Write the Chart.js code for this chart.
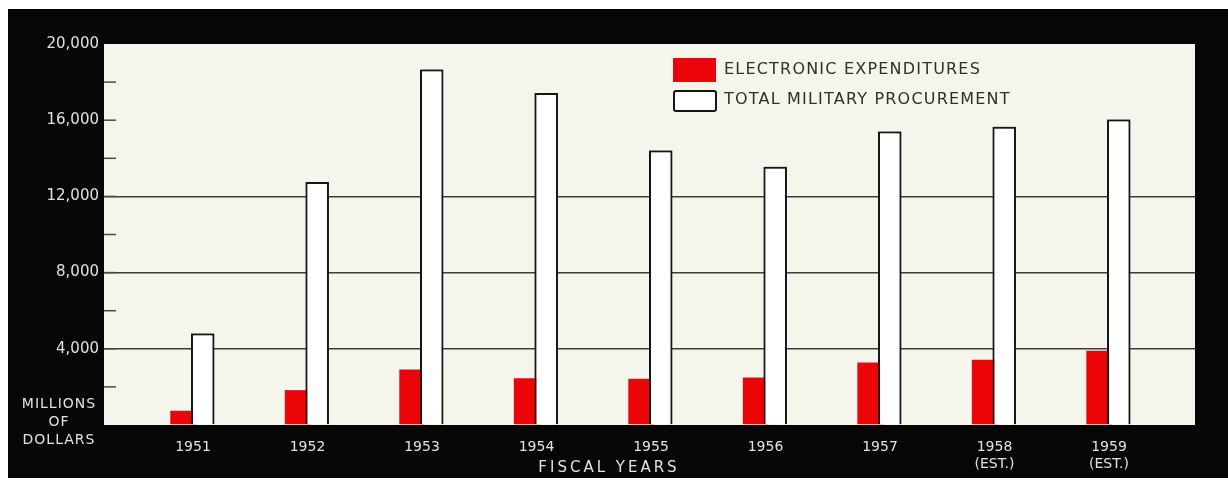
<!DOCTYPE html>
<html>
<head>
<meta charset="utf-8">
<script src="https://cdn.jsdelivr.net/npm/chart.js@4/dist/chart.umd.min.js"></script>
<style>
  html, body { margin: 0; padding: 0; background: #fff; }
  #wrap { position: absolute; left: 8px; top: 9px; width: 1220px; height: 469px; background: #060606; }
</style>
</head>
<body>
<div id="wrap"><canvas id="chart"></canvas></div>
<script>
// fiscal years and their axis labels
const years = [1951, 1952, 1953, 1954, 1955, 1956, 1957, 1958, 1959];
const yearLabels = ['1951', '1952', '1953', '1954', '1955', '1956', '1957', ['1958', '(EST.)'], ['1959', '(EST.)']];

// millions of dollars
const electronics = [750, 1830, 2910, 2450, 2430, 2500, 3280, 3430, 3900];
const procurement = [4800, 12750, 18660, 17430, 14410, 13550, 15410, 15650, 16040];

const seriesNames = ['ELECTRONIC EXPENDITURES', 'TOTAL MILITARY PROCUREMENT'];
const yLabelled = [4000, 8000, 12000, 16000, 20000];
const yGridlines = [4000, 8000, 12000];

const font = '"DejaVu Sans", sans-serif';
const plotColor = '#f6f5eb';
const labelColor = '#e2e2da';

// cream plot area, small ticks, legend and loose text
const decor = {
  id: 'decor',
  beforeDraw(chart) {
    const {ctx, chartArea: a} = chart;
    ctx.save();
    ctx.fillStyle = plotColor;
    ctx.fillRect(a.left, a.top, a.right - a.left, a.bottom - a.top);
    ctx.restore();
  },
  beforeDatasetsDraw(chart) {
    const {ctx, chartArea: a, scales: {y}} = chart;
    ctx.save();
    ctx.strokeStyle = '#4a4a44';
    ctx.lineWidth = 1.5;
    y.ticks.forEach(t => {
      if (t.value === 0 || t.value === 20000) return;
      const py = y.getPixelForValue(t.value);
      ctx.beginPath();
      ctx.moveTo(a.left, py);
      ctx.lineTo(a.left + 12, py);
      ctx.stroke();
    });
    ctx.restore();
  },
  afterDatasetsDraw(chart) {
    // white bars sit on top of the red ones
    chart.getDatasetMeta(1).controller.draw();

    const {ctx} = chart;
    ctx.save();
    // legend
    const ds = chart.data.datasets;
    ctx.fillStyle = ds[0].backgroundColor;
    ctx.fillRect(665, 49, 43, 24);
    ctx.fillStyle = ds[1].backgroundColor;
    ctx.strokeStyle = ds[1].borderColor;
    ctx.lineWidth = 2;
    ctx.beginPath();
    ctx.roundRect(666, 82, 42, 20, 2);
    ctx.fill();
    ctx.stroke();
    ctx.fillStyle = '#302f28';
    ctx.font = '16px ' + font;
    ctx.letterSpacing = '1.2px';
    ctx.textBaseline = 'middle';
    ctx.textAlign = 'left';
    ctx.fillText(seriesNames[0], 716, 61);
    ctx.fillText(seriesNames[1], 716, 91);

    // axis words
    ctx.fillStyle = labelColor;
    ctx.textAlign = 'center';
    ctx.font = '14px ' + font;
    ctx.letterSpacing = '1px';
    ctx.fillText('MILLIONS', 51, 395);
    ctx.fillText('OF', 51, 413);
    ctx.fillText('DOLLARS', 51, 431);
    ctx.font = '15px ' + font;
    ctx.letterSpacing = '3px';
    ctx.fillText('FISCAL YEARS', 601, 459);
    ctx.restore();
  }
};

const ctx = document.getElementById('chart').getContext('2d');
new Chart(ctx, {
  type: 'bar',
  data: {
    datasets: [{
      label: seriesNames[0],
      data: years.map((yr, i) => ({x: yr, y: electronics[i]})),
      backgroundColor: '#ec0508',
      borderWidth: 0,
      categoryPercentage: 0.34,
      barPercentage: 1.33
    }, {
      label: seriesNames[1],
      data: years.map((yr, i) => ({x: yr, y: procurement[i]})),
      backgroundColor: '#ffffff',
      borderColor: '#151515',
      borderWidth: 2,
      borderSkipped: 'bottom',
      categoryPercentage: 0.34,
      barPercentage: 1.2
    }]
  },
  options: {
    responsive: true,
    maintainAspectRatio: false,
    animation: false,
    layout: { padding: { left: 0, right: 33, top: 35, bottom: 0 } },
    plugins: {
      legend: { display: false },
      tooltip: { enabled: false }
    },
    scales: {
      x: {
        type: 'linear',
        offset: false,
        min: 1950.223,
        max: 1959.751,
        grid: { display: false },
        border: { display: false },
        afterBuildTicks: s => { s.ticks = years.map(v => ({value: v})); },
        afterFit: s => { s.height = 53; },
        ticks: {
          padding: 6,
          color: labelColor,
          font: { family: font, size: 14, lineHeight: 1.2 },
          maxRotation: 0,
          autoSkip: false,
          callback: v => yearLabels[years.indexOf(v)]
        }
      },
      y: {
        min: 0,
        max: 20000,
        afterFit: s => { s.width = 96; },
        border: { display: false },
        grid: {
          drawTicks: false,
          lineWidth: 1.5,
          color: c => yGridlines.includes(c.tick.value) ? '#3e3d38' : 'rgba(0,0,0,0)'
        },
        ticks: {
          stepSize: 2000,
          padding: 5,
          color: labelColor,
          font: { family: font, size: 15 },
          callback: v => yLabelled.includes(v) ? v.toLocaleString('en-US') : ''
        }
      }
    }
  },
  plugins: [decor]
});
</script>
</body>
</html>
